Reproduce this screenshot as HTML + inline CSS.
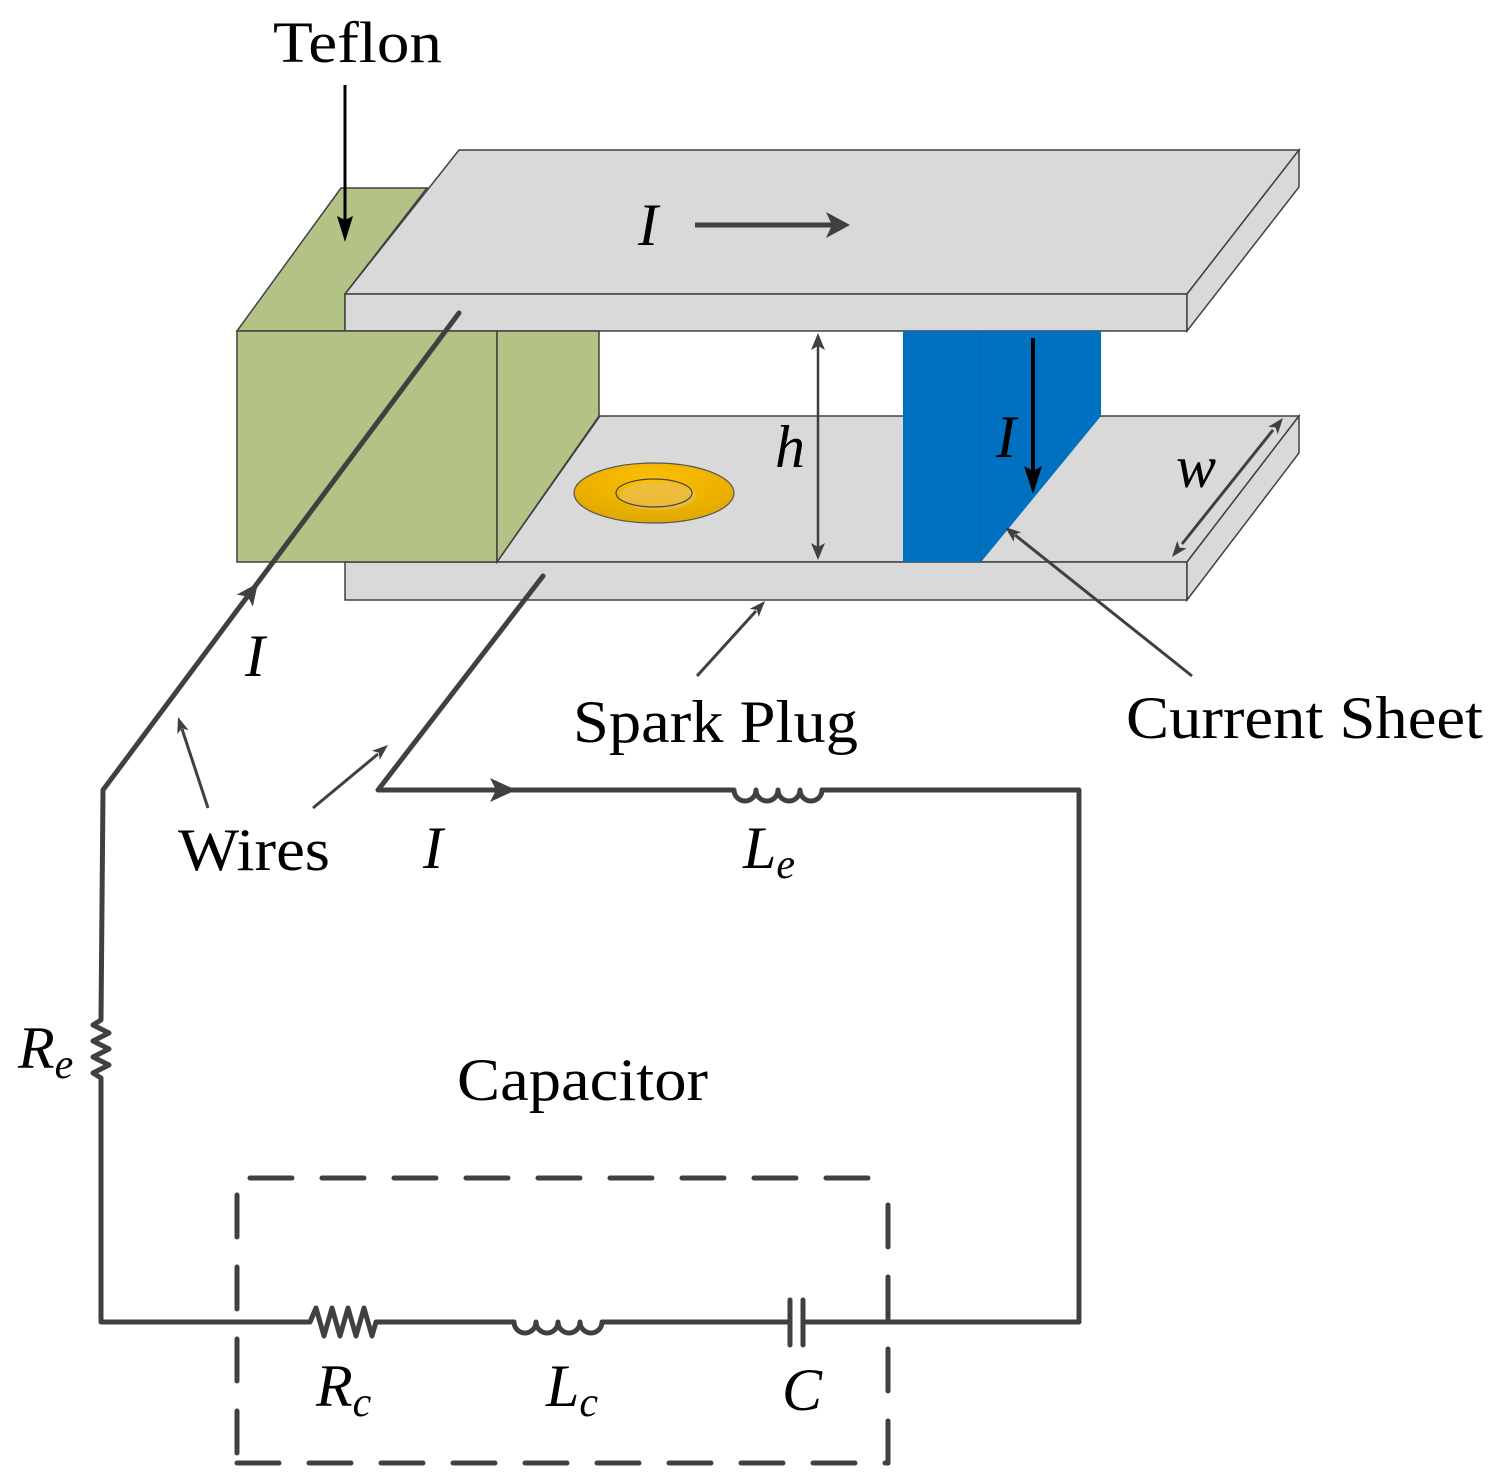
<!DOCTYPE html>
<html><head><meta charset="utf-8"><style>
html,body{margin:0;padding:0;background:#fff}
svg{display:block}
text{font-family:"Liberation Serif",serif;fill:#000}
.i{font-style:italic}
</style></head><body>
<svg width="1504" height="1484" viewBox="0 0 1504 1484" xmlns="http://www.w3.org/2000/svg">
<defs>
<radialGradient id="g" cx="50%" cy="30%" r="70%"><stop offset="0" stop-color="#ffc000"/><stop offset="1" stop-color="#e0a800"/></radialGradient>
</defs>
<g stroke="#404040" stroke-width="1.5">
<polygon points="237,331 341,188 427,188 345,294 345,331" fill="#b3c285"/>
<polygon points="459,150 1299,150 1187,294 345,294" fill="#d9d9d9"/>
<rect x="345" y="294" width="842" height="37" fill="#d9d9d9"/>
<polygon points="1187,294 1299,150 1299,187 1187,331" fill="#d9d9d9"/>
<polygon points="497,562 600,416 1299,416 1187,562" fill="#d9d9d9"/>
<rect x="345" y="562" width="842" height="38" fill="#d9d9d9"/>
<polygon points="1187,562 1299,416 1299,453 1187,600" fill="#d9d9d9"/>
<rect x="237" y="331" width="260" height="231" fill="#b3c285"/>
<polygon points="497,331 599,331 599,416 497,562" fill="#b3c285"/>
</g>
<rect x="903" y="331" width="78" height="231" fill="#0070c0"/>
<polygon points="981,331 1101,331 1101,416 981,562" fill="#0070c0"/>
<line x1="981" y1="331" x2="981" y2="562" stroke="#1060a0" stroke-width="1"/>
<ellipse cx="654" cy="493" rx="80" ry="30" fill="url(#g)" stroke="#555" stroke-width="1.2"/>
<ellipse cx="658" cy="496" rx="38" ry="14" fill="#e8c060" opacity="0.6"/>
<ellipse cx="654" cy="493" rx="38" ry="14" fill="none" stroke="#444" stroke-width="1.2"/>

<g stroke="#404040" stroke-width="3">
<line x1="695" y1="225" x2="832" y2="225" stroke-width="5"/>
<line x1="818" y1="346" x2="818" y2="547" stroke-width="2.5"/>
<line x1="1273" y1="430" x2="1182" y2="544"/>
<line x1="697" y1="676" x2="756" y2="611"/>
<line x1="1192" y1="676" x2="1015" y2="535"/>
<line x1="208" y1="808" x2="182" y2="729"/>
<line x1="313" y1="808" x2="378" y2="754"/>
</g>
<line x1="1033" y1="338" x2="1033" y2="472" stroke="#000" stroke-width="4"/>
<line x1="345" y1="85" x2="345" y2="220" stroke="#000" stroke-width="3"/>
<g fill="#404040">
<polygon points="850,225 826,212 832,225 826,238"/>
<polygon points="818,333 811,350 818,346 825,350"/>
<polygon points="818,560 811,543 818,547 825,543"/>
<polygon points="1172,557 1186.7,548.2 1179.5,547.6 1177.3,540.8"/>
<polygon points="1283,418 1277.7,434.2 1275.5,427.4 1268.3,426.8"/>
<polygon points="765,601 758.7,616.9 756.9,609.9 749.7,608.9"/>
<polygon points="1005,527 1021.2,532.3 1014.4,534.5 1013.8,541.7"/>
<polygon points="178,717 188.7,730.3 181.8,728.4 177.3,734.1"/>
<polygon points="388,745 379.7,759.9 378.8,752.7 371.9,750.7"/>
<polygon points="516,790 490,778 496,790 490,802"/>
<polygon points="258,583 252.8,606.6 247.8,596.6 236.8,594.6"/>
</g>
<g fill="#000">
<polygon points="1033,494 1024,466 1033,471 1042,466"/>
<polygon points="345,242 337,216 345,220 353,216"/>
</g>
<g stroke="#404040" stroke-width="5" fill="none" stroke-linecap="round" stroke-linejoin="round">
<polyline points="459,313 103,790 101,1020 93,1025 109,1033 93,1041 109,1049 93,1057 109,1065 93,1073 101,1078 101,1322 310,1322 316,1308 324,1336 332,1308 340,1336 348,1308 356,1336 364,1308 372,1336 376,1322 514,1322"/>
<path d="M514,1322 a11,11 0 0 0 22,0 a11,11 0 0 0 22,0 a11,11 0 0 0 22,0 a11,11 0 0 0 22,0 L788,1322"/>
<line x1="790" y1="1300" x2="790" y2="1345"/>
<line x1="803" y1="1300" x2="803" y2="1345"/>
<polyline points="803,1322 1079,1322 1079,790 822,790"/>
<path d="M822,790 a11,11 0 0 1 -22,0 a11,11 0 0 1 -22,0 a11,11 0 0 1 -22,0 a11,11 0 0 1 -22,0 L378,790 543,576"/>
<line x1="250" y1="1178" x2="888" y2="1178" stroke-dasharray="42,30"/>
<line x1="237" y1="1463" x2="888" y2="1463" stroke-dasharray="42,30"/>
<line x1="237" y1="1195" x2="237" y2="1463" stroke-dasharray="42,30"/>
<line x1="888" y1="1205" x2="888" y2="1463" stroke-dasharray="42,30"/>
</g>
<text x="273" y="62" font-size="58" textLength="169" lengthAdjust="spacingAndGlyphs">Teflon</text>
<text x="648" y="245" font-size="60" class="i" text-anchor="middle">I</text>
<text x="790" y="467" font-size="60" class="i" text-anchor="middle">h</text>
<text x="1006" y="457" font-size="60" class="i" text-anchor="middle">I</text>
<text x="1196" y="487" font-size="60" class="i" text-anchor="middle">w</text>
<text x="255" y="676" font-size="60" class="i" text-anchor="middle">I</text>
<text x="433" y="868" font-size="60" class="i" text-anchor="middle">I</text>
<text x="573" y="742" font-size="60" textLength="285" lengthAdjust="spacingAndGlyphs">Spark Plug</text>
<text x="1126" y="738" font-size="60" textLength="357" lengthAdjust="spacingAndGlyphs">Current Sheet</text>
<text x="178" y="870" font-size="60" textLength="152" lengthAdjust="spacingAndGlyphs">Wires</text>
<text x="457" y="1100" font-size="60" textLength="251" lengthAdjust="spacingAndGlyphs">Capacitor</text>
<text x="743" y="868" font-size="60" class="i">L<tspan font-size="42" dy="10">e</tspan></text>
<text x="18" y="1068" font-size="60" class="i">R<tspan font-size="42" dy="10">e</tspan></text>
<text x="316" y="1406" font-size="60" class="i">R<tspan font-size="42" dy="10">c</tspan></text>
<text x="546" y="1406" font-size="60" class="i">L<tspan font-size="42" dy="10">c</tspan></text>
<text x="802" y="1410" font-size="60" class="i" text-anchor="middle">C</text>
</svg>
</body></html>
